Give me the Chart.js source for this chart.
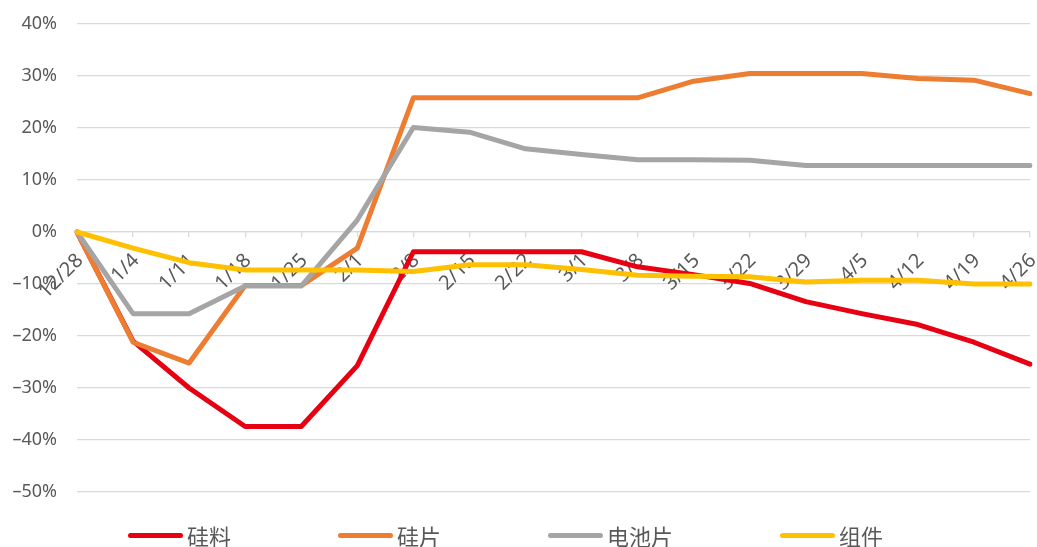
<!DOCTYPE html>
<html>
<head>
<meta charset="utf-8">
<script src="https://cdn.jsdelivr.net/npm/chart.js@4.4.0/dist/chart.umd.min.js"></script>
<style>
  html, body { margin: 0; padding: 0; background: #ffffff; }
  #wrap { position: relative; width: 1037px; height: 547px; }
  #chart { position: absolute; left: 0; top: 0; }
  #legend {
    position: absolute; left: 128px; top: 522px; height: 26px;
    display: flex; align-items: center;
    font-family: "Noto Sans CJK SC", sans-serif; font-size: 22px; color: #595959;
  }
  .item { display: flex; align-items: center; margin-right: 107px; white-space: nowrap; }
  .swatch { display: inline-block; width: 55px; height: 5px; border-radius: 3px; margin-right: 4px; }
</style>
</head>
<body>
<div id="wrap">
  <canvas id="chart" width="1037" height="547"></canvas>
  <div id="legend"></div>
</div>
<script>
// Weekly dates
const weeks = ['12/28','1/4','1/11','1/18','1/25','2/1','2/8','2/15','2/22','3/1','3/8','3/15','3/22','3/29','4/5','4/12','4/19','4/26'];

// Cumulative price change since 12/28, in percent
const silicon = [0, -21.0, -30.0, -37.4, -37.4, -25.7, -3.8, -3.8, -3.8, -3.8, -6.7, -8.2, -9.9, -13.4, -15.7, -17.8, -21.2, -25.4];
const wafer   = [0, -21.2, -25.2, -10.3, -10.3, -3.1, 25.8, 25.8, 25.8, 25.8, 25.8, 29.0, 30.5, 30.5, 30.5, 29.5, 29.2, 26.6];
const cell    = [0, -15.7, -15.7, -10.4, -10.4, 2.3, 20.1, 19.2, 16.0, 14.9, 13.9, 13.9, 13.8, 12.8, 12.8, 12.8, 12.8, 12.8];
const module_ = [0, -3.1, -5.9, -7.3, -7.3, -7.3, -7.6, -6.3, -6.3, -7.2, -8.3, -8.5, -8.6, -9.6, -9.3, -9.3, -10.0, -10.0];

// Y-axis tick values
const yTicks = [40, 30, 20, 10, 0, -10, -20, -30, -40, -50];

const seriesNames = ['硅料', '硅片', '电池片', '组件'];
const seriesColors = ['#E60012', '#ED7D31', '#A5A5A5', '#FFC000'];
const seriesData = [silicon, wafer, cell, module_];

const datasets = seriesData.map((d, i) => ({
  label: seriesNames[i],
  data: d,
  borderColor: seriesColors[i],
  backgroundColor: seriesColors[i],
  borderWidth: 5,
  pointRadius: 0,
  pointHoverRadius: 0,
  tension: 0,
  fill: false,
  borderCapStyle: 'round',
  borderJoinStyle: 'round',
  order: seriesData.length - i
}));

const gridColor = '#D9D9D9';
const textColor = '#595959';

const chart = new Chart(document.getElementById('chart'), {
  type: 'line',
  data: { labels: weeks, datasets },
  options: {
    responsive: false,
    animation: false,
    layout: { padding: { left: 10, right: 7, top: 24, bottom: 55 } },
    plugins: {
      legend: { display: false },
      tooltip: { enabled: false }
    },
    scales: {
      x: {
        type: 'category',
        offset: false,
        position: { y: 0 },
        z: 1,
        afterFit: (scale) => {
          // rotated labels sit inside the plot, so no extra side padding
          scale.paddingLeft = 0;
          scale.paddingRight = 0;
          scale.paddingTop = 0;
          scale.paddingBottom = 0;
        },
        grid: {
          drawOnChartArea: false,
          drawTicks: true,
          tickLength: 5,
          color: gridColor,
          lineWidth: 1.3
        },
        border: { display: true, color: gridColor, width: 1.3 },
        ticks: {
          autoSkip: false,
          maxRotation: 45,
          minRotation: 45,
          padding: 12,
          labelOffset: 3,
          color: textColor,
          font: { family: '"Noto Sans", sans-serif', size: 20 }
        }
      },
      y: {
        min: -50,
        max: 40,
        afterBuildTicks: (axis) => { axis.ticks = yTicks.map(v => ({ value: v })); },
        afterFit: (scale) => {
          // fixed label column width; layout padding handles the top edge
          scale.width = 67;
          scale.paddingTop = 0;
          scale.paddingBottom = 0;
        },
        grid: { color: gridColor, lineWidth: 1.3, drawTicks: false },
        border: { display: false },
        ticks: {
          padding: 20,
          color: textColor,
          font: { family: '"Noto Sans", sans-serif', size: 18 },
          callback: (v) => (v < 0 ? '\u2013' + Math.abs(v) : v) + '%'
        }
      }
    }
  }
});

// Legend built from the chart's datasets
const legendEl = document.getElementById('legend');
chart.data.datasets.forEach((ds) => {
  const item = document.createElement('span');
  item.className = 'item';
  const sw = document.createElement('span');
  sw.className = 'swatch';
  sw.style.background = ds.borderColor;
  const txt = document.createElement('span');
  txt.textContent = ds.label;
  item.appendChild(sw);
  item.appendChild(txt);
  legendEl.appendChild(item);
});
</script>
</body>
</html>
